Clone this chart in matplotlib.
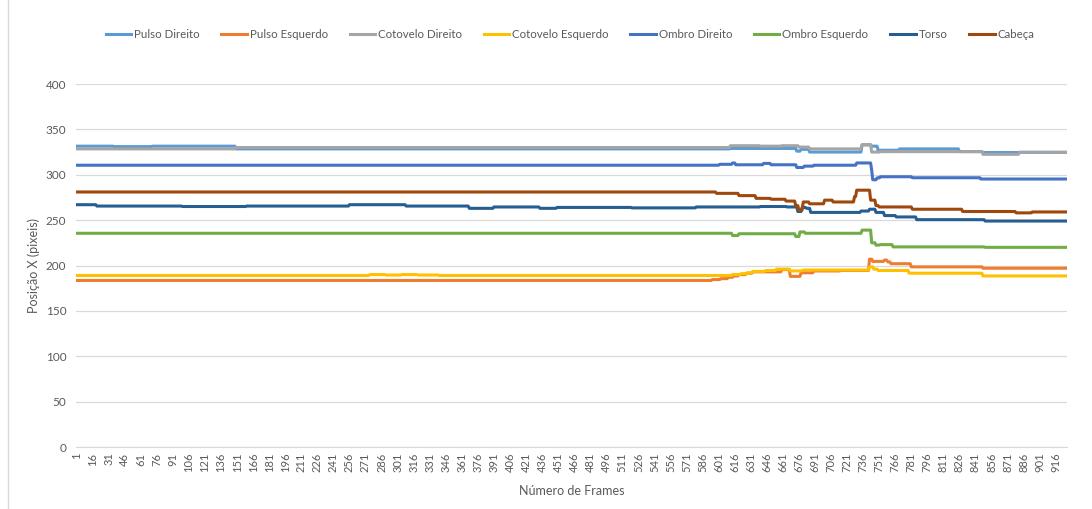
import numpy as np
import matplotlib.pyplot as plt
from matplotlib.patches import Rectangle

plt.rcParams['font.family'] = ['Lato', 'DejaVu Sans']

n_frames = 926
frames = np.arange(1, n_frames + 1)

# cada série: frame onde começa cada trecho e a posição X nesse trecho
pulso_dir_ini = [1, 36, 72, 150, 612, 674, 678, 686, 735, 744, 750, 770, 826, 848, 882]
pulso_dir_val = [331.5, 331, 331.5, 328.5, 329, 326, 328, 325, 333, 331.5, 327, 328.5, 325.5, 324.5, 324.7]

pulso_esq_ini = [1, 595, 603, 610, 615, 620, 627, 633, 660, 668, 678, 690, 715, 742, 745, 756, 759, 762, 781, 848]
pulso_esq_val = [183.5, 184.5, 185.5, 187, 188.5, 190, 191.5, 193, 195.5, 188, 192, 194, 194.5, 207, 204.5, 206,
                 204, 202, 198.5, 197]

cotovelo_dir_ini = [1, 150, 612, 640, 660, 676, 686, 735, 744, 752, 848, 882]
cotovelo_dir_val = [328.5, 330, 332, 331.5, 332, 330.5, 328.5, 333, 325, 325.5, 322.5, 324.7]

cotovelo_esq_ini = [1, 275, 290, 305, 320, 340, 614, 622, 628, 633, 645, 655, 668, 680, 742, 746, 750, 779, 848]
cotovelo_esq_val = [189, 190, 189.5, 190, 189.5, 189, 190, 191, 192, 193.5, 194.5, 196, 194, 195, 198.5, 196, 194.5,
                    191.5, 188.5]

ombro_dir_ini = [1, 602, 614, 617, 643, 650, 674, 681, 690, 730, 744, 745, 749, 752, 782, 846]
ombro_dir_val = [310.5, 311.5, 313, 311, 312.5, 311, 308, 309.5, 310.5, 313, 305, 294.5, 296.5, 297.8, 296.7, 295.3]

ombro_esq_ini = [1, 614, 620, 673, 677, 682, 735, 744, 748, 752, 764, 850]
ombro_esq_val = [235.5, 233, 235, 232, 237, 235.5, 239, 225, 222.5, 223, 220.5, 220]

torso_ini = [1, 20, 100, 160, 256, 309, 368, 391, 434, 450, 520, 580, 640, 665, 675, 679, 683, 687,
             734, 742, 748, 756, 767, 786, 850]
torso_val = [267, 265.5, 265, 265.5, 267, 265.5, 263, 264.5, 263, 264, 263.5, 264.5, 265, 264.5, 259.5, 264,
             263, 258.5, 260, 262, 258.5, 255, 253.5, 250.5, 249]

cabeca_ini = [1, 599, 620, 636, 650, 664, 673, 676, 680, 686, 700, 708, 728, 730, 743, 748, 751, 782, 829, 879, 894]
cabeca_val = [281, 279.5, 277, 274, 273, 271, 266, 261, 270, 268, 272, 270, 276, 283, 272, 266, 264.5, 262, 259.5,
              258, 259]

nomes = ['Pulso Direito', 'Pulso Esquerdo', 'Cotovelo Direito', 'Cotovelo Esquerdo',
         'Ombro Direito', 'Ombro Esquerdo', 'Torso', 'Cabeça']
cores = ['#5B9BD5', '#ED7D31', '#A5A5A5', '#FFC000', '#4472C4', '#70AD47', '#255E91', '#9E480E']
series = [(pulso_dir_ini, pulso_dir_val), (pulso_esq_ini, pulso_esq_val),
          (cotovelo_dir_ini, cotovelo_dir_val), (cotovelo_esq_ini, cotovelo_esq_val),
          (ombro_dir_ini, ombro_dir_val), (ombro_esq_ini, ombro_esq_val),
          (torso_ini, torso_val), (cabeca_ini, cabeca_val)]


def expandir(ini, val):
    tam = np.diff(ini + [n_frames + 1])
    return np.repeat(val, tam)


fig = plt.figure(figsize=(10.92, 5.09), dpi=100)
fig.patches.append(Rectangle((8 / 1092, -0.01), 1.1, 1.1, transform=fig.transFigure,
                             fill=False, edgecolor='#D9D9D9', lw=1))
ax = fig.add_axes([76 / 1092, 1 - 447 / 509, 991 / 1092, 363 / 509])

for nome, cor, (ini, val) in zip(nomes, cores, series):
    ax.plot(frames, expandir(ini, val), color=cor, lw=2.2, label=nome, solid_joinstyle='round')

ax.set_xlim(0.5, n_frames + 0.5)
ax.set_ylim(0, 400)
ax.set_yticks(np.arange(0, 401, 50))
ax.set_xticks(np.arange(1, n_frames + 1, 15))
ax.tick_params(axis='x', labelrotation=90, length=0, labelsize=8, labelcolor='#595959', pad=4)
ax.tick_params(axis='y', length=0, labelsize=8.5, labelcolor='#595959', pad=7)
ax.grid(axis='y', color='#D9D9D9', lw=0.9)
ax.set_axisbelow(True)
for s in ['top', 'right', 'left']:
    ax.spines[s].set_visible(False)
ax.spines['bottom'].set_color('#D9D9D9')

ax.set_xlabel('Número de Frames', fontsize=9, color='#595959', labelpad=9)
ax.set_ylabel('Posição X (pixeis)', fontsize=9, color='#595959', labelpad=4)

fig.legend(loc='center', bbox_to_anchor=(0.522, 1 - 35 / 509), ncol=8, frameon=False,
           fontsize=8.3, labelcolor='#595959', handlelength=2.2, handletextpad=0.25,
           columnspacing=1.9)

plt.savefig('out.png', dpi=100)
